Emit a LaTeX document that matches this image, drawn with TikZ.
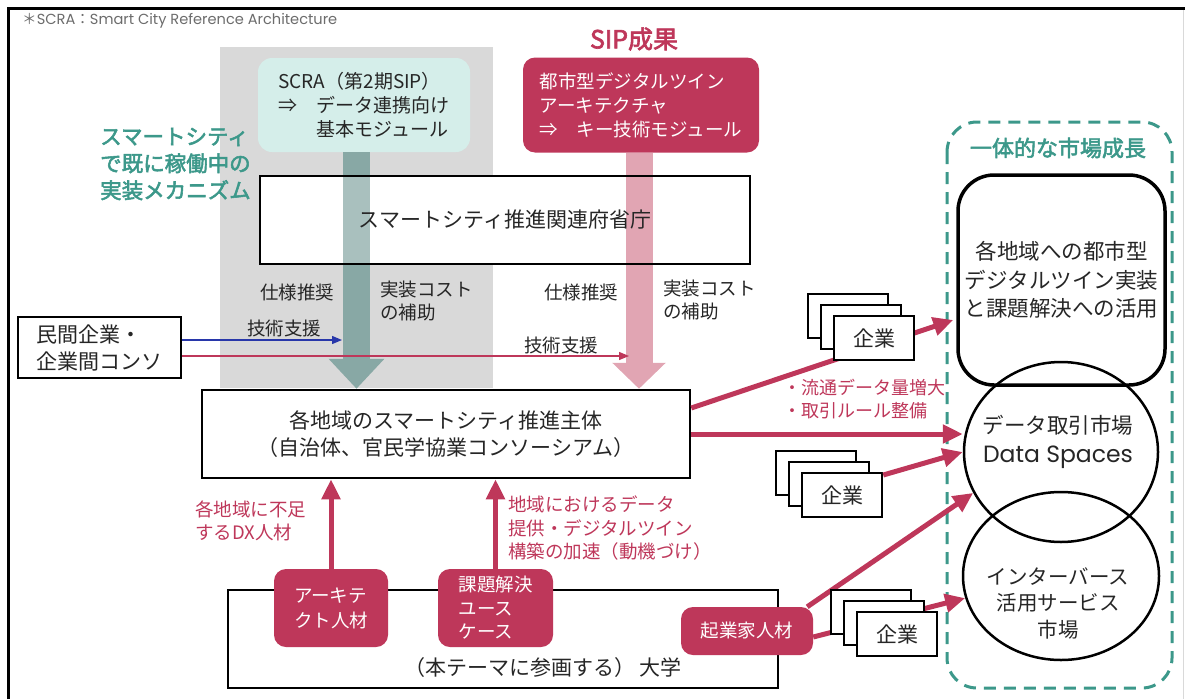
\documentclass[tikz,border=0pt]{standalone}
\usepackage{fontspec}
\setmainfont{Noto Sans CJK JP}
\newfontfamily\halbfett[FakeBold=2.5]{Noto Sans CJK JP}
\newfontfamily\geofont{Poppins}
\usetikzlibrary{arrows.meta,calc,shapes.geometric}
\definecolor{myred}{RGB}{190,55,90}
\definecolor{mypink}{RGB}{225,165,179}
\definecolor{tealgray}{RGB}{136,168,165}
\definecolor{myteal}{RGB}{60,152,138}
\definecolor{lightteal}{RGB}{213,238,234}
\definecolor{lightgray}{RGB}{217,217,217}
\definecolor{myblue}{RGB}{40,55,170}
\definecolor{textgray}{RGB}{38,38,38}
\newcommand{\fsz}[2]{\fontsize{#1}{#2}\selectfont}

\begin{document}
\begin{tikzpicture}[x=1pt, y=-1pt, >=latex, font=\fsz{21}{27}, text=textgray,
	kasten/.style={draw=black, line width=2.5pt, fill=white, inner sep=0pt},
	rotbox/.style={fill=myred, rounded corners=12pt, text=white, inner sep=0pt},
	firma/.style={draw=black, line width=2.5pt, fill=white, minimum width=80, minimum height=44, inner sep=0pt},
	blockpfeil/.style={line width=27pt, -{Triangle[width=54pt,length=30pt]}},
	rotpfeil/.style={myred, line width=5pt, -{Triangle[width=18pt,length=20pt]}},
	duennpfeil/.style={line width=1.3pt, -{Triangle[width=8pt,length=10pt]}},
	etikett/.style={font=\fsz{18.5}{23}, inner sep=0pt},
	hinweis/.style={myred, font=\fsz{18.5}{23.5}, align=left, inner sep=0pt}]
	\useasboundingbox (0,0) rectangle (1185,699);
	%Rahmen
	\draw[line width=3pt] (8.5,699) -- (8.5,8) -- (1185,8);
	\draw[lightgray, line width=.8pt] (1183,10) -- (1183,699);
	\node[anchor=west, text=gray!85!black, font=\fsz{14.6}{17}, inner sep=0pt] (fussnote) at (22,21) {＊{\geofont SCRA}：{\geofont Smart City Reference Architecture}};
	% graue Flaeche
	\fill[lightgray] (220,47) rectangle (493,388);
	% obere Kaesten
	\node[fill=lightteal, rounded corners=14pt, minimum width=212, minimum height=94, inner sep=0pt, align=left, font=\fsz{19}{24}] (scra) at (364,105) {SCRA（第2期SIP）\\⇒　データ連携向け\\\phantom{⇒　}基本モジュール};
	\node[rotbox, minimum width=236, minimum height=95, align=left, font=\fsz{18.5}{24}] (sip) at (641,105) {都市型デジタルツイン\\アーキテクチャ\\⇒　キー技術モジュール};
	\node[text=myred, font=\fsz{25}{30}\halbfett] (siptitel) at (634,39) {SIP成果};
	\node[text=myteal, font=\fsz{21.5}{27}\halbfett, align=left, anchor=west, inner sep=0pt] (mechanismus) at (100,164) {スマートシティ\\で既に稼働中の\\実装メカニズム};
	% mittlere Kaesten
	\node[kasten, draw=none, minimum width=490, minimum height=88] (fushochogrund) at (505,220) {};
	\node[kasten, minimum width=488, minimum height=88, align=center] (kakuchi) at (446,434) {各地域のスマートシティ推進主体\\（自治体、官民学協業コンソーシアム）};
	\node[kasten, minimum width=163, minimum height=61, align=left] (minkan) at (99.5,347.5) {民間企業・\\企業間コンソ};
	% Blockpfeile
	\coordinate (tealoben) at ($(scra.south)+(-7.5,0)$);
	\coordinate (rosaoben) at ($(sip.south)+(-2,0)$);
	\draw[blockpfeil, tealgray] (tealoben) -- (tealoben |- kakuchi.north);
	\draw[blockpfeil, mypink, -{Triangle[width=52pt,length=26pt]}] (rosaoben) -- (rosaoben |- kakuchi.north);
	\fill[white, opacity=.28] (343,177) rectangle (370,263);
	\node[kasten, fill=none, minimum width=490, minimum height=88] (fushocho) at (fushochogrund) {スマートシティ推進関連府省庁};
	% Beschriftung
	\node[etikett] (spez1) at (297,292) {仕様推奨};
	\node[etikett, align=left, anchor=west] (kosten1) at (380,301) {実装コスト\\の補助};
	\node[etikett] (spez2) at (581,292) {仕様推奨};
	\node[etikett, align=left, anchor=west] (kosten2) at (663,300) {実装コスト\\の補助};
	\node[etikett] (tech1) at (284,328) {技術支援};
	\node[etikett] (tech2) at (561,345) {技術支援};
	\coordinate (blauziel) at (342,340);
	\coordinate (rotziel) at (629,356);
	\draw[duennpfeil, myblue] (minkan.east |- blauziel) -- (blauziel);
	\draw[duennpfeil, myred] (minkan.east |- rotziel) -- (rotziel);
	% Universitaet
	\node[kasten, minimum width=550, minimum height=98] (daigaku) at (503,639) {};
	\node[inner sep=0pt] (daigakutext) at (543,668) {（本テーマに参画する） 大学};
	\node[rotbox, minimum width=114, minimum height=78, align=left, font=\fsz{18.5}{25}] (architekt) at (331,608) {アーキテ\\クト人材};
	\node[rotbox, minimum width=115, minimum height=78, align=left, font=\fsz{18.5}{23.5}] (usecase) at (495.5,608) {課題解決\\ユース\\ケース};
	\node[rotbox, minimum width=132, minimum height=48, font=\fsz{18.5}{23}] (kigyoka) at (747,631) {起業家人材};
	\draw[rotpfeil] (architekt.north) -- (architekt.north |- kakuchi.south);
	\draw[rotpfeil] (usecase.north) -- (usecase.north |- kakuchi.south);
	\node[hinweis, anchor=west] (mangel) at (195,521) {各地域に不足\\するDX人材};
	\node[hinweis, anchor=west] (anreiz) at (508,528) {地域におけるデータ\\提供・デジタルツイン\\構築の加速（動機づけ）};
	% Maerkte rechts
	\draw[myteal, line width=3pt, dash pattern=on 12pt off 8pt, rounded corners=30pt] (947,122) rectangle (1172,688);
	\node[text=myteal, font=\fsz{22}{27}\halbfett] (wachstum) at (1058,148) {一体的な市場成長};
	\node[draw=black, line width=3.5pt, rounded corners=36pt, minimum width=207, minimum height=210, align=center, inner sep=0pt, font=\fsz{21.5}{28.5}] (digitwin) at (1061.5,280) {各地域への都市型\\デジタルツイン実装\\と課題解決への活用};
	\node[draw=black, ellipse, line width=2.5pt, minimum width=194, minimum height=180, inner sep=0pt] (datenmarkt) at (1061,452) {};
	\node[align=center, inner sep=0pt, font=\fsz{21.5}{29}] (datenmarkttext) at (1058,442) {データ取引市場\\{\geofont\fsz{23.5}{29}Data Spaces}};
	\node[draw=black, ellipse, line width=2.5pt, minimum width=196, minimum height=168, inner sep=0pt] (intermarkt) at (1061,576) {};
	\node[align=center, inner sep=0pt, font=\fsz{20.5}{26.5}] (intermarkttext) at (1058,603) {インターバース\\活用サービス\\市場};
	\node[hinweis, anchor=west, font=\fsz{18}{23.5}] (fluss) at (783,399) {・流通データ量増大\\・取引ルール整備};
	% Pfeile zu den Maerkten
	\draw[rotpfeil] ($(kakuchi.east)+(0,-26)$) -- ($(digitwin.west)+(-3,40)$);
	\draw[rotpfeil] (kakuchi.east) -- (kakuchi.east -| datenmarkt.west);
	\draw[rotpfeil] ($(kigyoka.north east)+(-6,0)$) -- (datenmarkt.205);
	\draw[rotpfeil] ($(kigyoka.east)+(0,6)$) -- (intermarkt.193);
	% Unternehmen
	\foreach \px/\py/\nm in {874/338/firmaA, 842/495/firmaB, 897/634/firmaC} {
		\node[firma] at (\px-26,\py-22) {};
		\node[firma] at (\px-13,\py-11) {};
		\node[firma] (\nm) at (\px,\py) {企業};
	}
	\draw[rotpfeil] ($(firmaB.east)+(0,-20)$) -- (datenmarkt.west);
\end{tikzpicture}
\end{document}
